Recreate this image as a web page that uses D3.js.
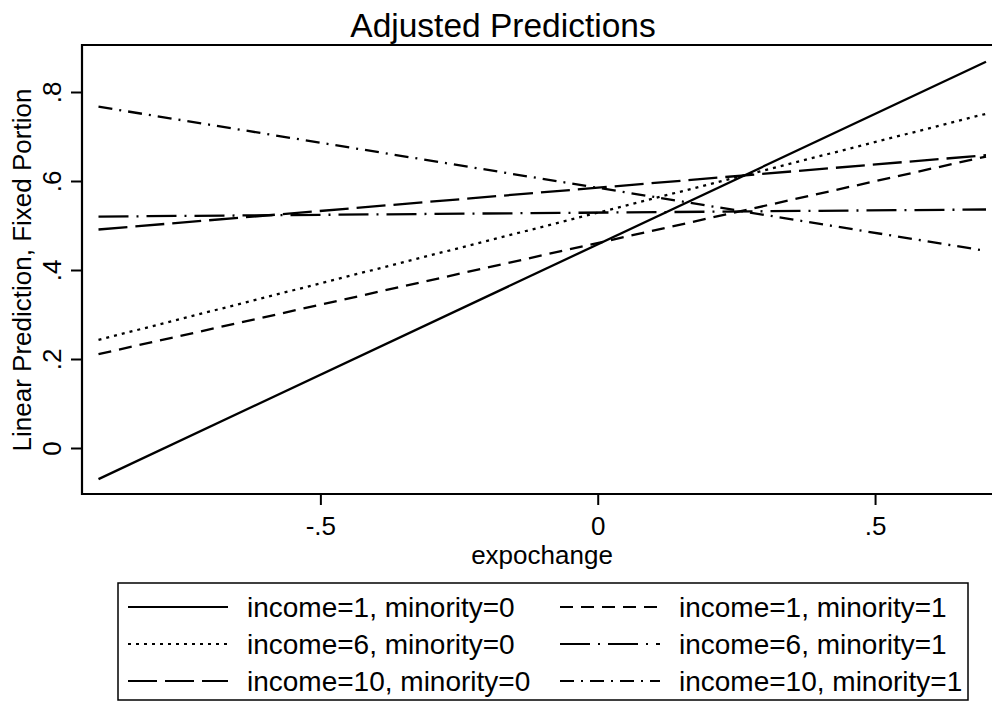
<!DOCTYPE html>
<html>
<head>
<meta charset="utf-8">
<script src="https://cdn.jsdelivr.net/npm/d3@7"></script>
<style>
  html, body { margin: 0; padding: 0; background: #fff; }
  svg { display: block; font-family: "Liberation Sans", Arial, Helvetica, sans-serif; }
</style>
</head>
<body>
<svg id="chart" width="992" height="706"></svg>
<script>
// ---- data ----
const xEnds = [-0.9, 0.7];
const seriesNames = [
  "income=1, minority=0",
  "income=1, minority=1",
  "income=6, minority=0",
  "income=6, minority=1",
  "income=10, minority=0",
  "income=10, minority=1"
];
const startValues = [-0.070, 0.211, 0.243, 0.520, 0.491, 0.767];
const endValues   = [ 0.868, 0.655, 0.751, 0.536, 0.658, 0.443];
const xTicks = [-0.5, 0, 0.5];
const xTickLabels = ["-.5", "0", ".5"];
const yTicks = [0, 0.2, 0.4, 0.6, 0.8];
const yTickLabels = ["0", ".2", ".4", ".6", ".8"];
const dashes = ["", "13,8", "3,5", "30,8,2,8", "29,8", "14,7,2,7"];

// ---- layout ----
const svg = d3.select("#chart");
const frame = {left: 82, top: 45, bottom: 494, right: 1003};
const x = d3.scaleLinear().domain(xEnds).range([98.5, 986]);
const y = d3.scaleLinear().domain([0, 0.8]).range([448, 92]);
const FS = 26;
const LFS = 28;

svg.append("rect").attr("width", 992).attr("height", 706).attr("fill", "#fff");

// title
svg.append("text").attr("x", 503).attr("y", 37).attr("text-anchor", "middle")
  .attr("font-size", 33.5).attr("fill", "#000").text("Adjusted Predictions");

// plot region outline (top line)
svg.append("line").attr("x1", frame.left).attr("x2", frame.right)
  .attr("y1", frame.top).attr("y2", frame.top).attr("stroke", "#000").attr("stroke-width", 2);

// y axis
const yAxis = d3.axisLeft(y).tickValues(yTicks).tickSize(11)
  .tickFormat((d, i) => yTickLabels[i]);
const gy = svg.append("g").attr("transform", `translate(${frame.left},0)`).call(yAxis);
gy.select(".domain").remove();
gy.selectAll(".tick line").attr("stroke", "#000").attr("stroke-width", 2);
gy.selectAll(".tick text")
  .attr("font-size", FS).attr("fill", "#000").attr("font-family", null)
  .attr("x", null).attr("dy", null)
  .attr("text-anchor", "middle")
  .attr("transform", "translate(-21,0) rotate(-90)");
svg.append("line").attr("x1", frame.left).attr("x2", frame.left)
  .attr("y1", frame.top - 1).attr("y2", frame.bottom + 1).attr("stroke", "#000").attr("stroke-width", 2.2);

// x axis
const xAxis = d3.axisBottom(x).tickValues(xTicks).tickSize(11)
  .tickFormat((d, i) => xTickLabels[i]);
const gx = svg.append("g").attr("transform", `translate(0,${frame.bottom})`).call(xAxis);
gx.select(".domain").remove();
gx.selectAll(".tick line").attr("stroke", "#000").attr("stroke-width", 2);
gx.selectAll(".tick text").attr("font-size", FS).attr("fill", "#000")
  .attr("font-family", null).attr("y", 41).attr("dy", null);
svg.append("line").attr("x1", frame.left - 1).attr("x2", frame.right)
  .attr("y1", frame.bottom).attr("y2", frame.bottom).attr("stroke", "#000").attr("stroke-width", 2.2);

// axis titles
svg.append("text").attr("x", 542).attr("y", 564).attr("text-anchor", "middle")
  .attr("font-size", FS).attr("fill", "#000").text("expochange");
svg.append("text").attr("transform", "translate(31,270) rotate(-90)").attr("text-anchor", "middle")
  .attr("font-size", FS).attr("fill", "#000").text("Linear Prediction, Fixed Portion");

// lines
const line = d3.line().x(d => x(d[0])).y(d => y(d[1]));
const plotData = seriesNames.map((n, i) => ({
  name: n, dash: dashes[i],
  pts: [[xEnds[0], startValues[i]], [xEnds[1], endValues[i]]]
}));
svg.append("g").selectAll("path").data(plotData).join("path")
  .attr("d", d => line(d.pts))
  .attr("fill", "none").attr("stroke", "#000").attr("stroke-width", 2.3)
  .attr("stroke-dasharray", d => d.dash || null);

// legend
const leg = svg.append("g");
leg.append("rect").attr("x", 118).attr("y", 583).attr("width", 850).attr("height", 117)
  .attr("fill", "none").attr("stroke", "#000").attr("stroke-width", 1.5);
const colX = [128, 560];
const rowY = [607, 644, 681];
const colIdx = [[0, 2, 4], [1, 3, 5]];
colIdx.forEach((rows, col) => rows.forEach((idx, row) => {
  const cx = colX[col], cy = rowY[row];
  leg.append("line").attr("x1", cx).attr("x2", cx + 100).attr("y1", cy).attr("y2", cy)
    .attr("stroke", "#000").attr("stroke-width", 2.2)
    .attr("stroke-dasharray", dashes[idx] || null);
  leg.append("text").attr("x", cx + 119).attr("y", cy + 10).attr("font-size", LFS)
    .attr("fill", "#000").text(seriesNames[idx]);
}));
</script>
</body>
</html>
